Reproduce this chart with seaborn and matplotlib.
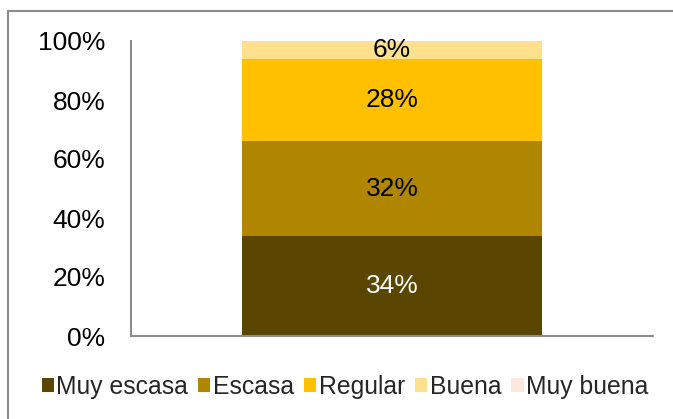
import numpy as np
import pandas as pd
import matplotlib
matplotlib.use("Agg")
import matplotlib.pyplot as plt
from matplotlib.patches import Patch, Rectangle
import seaborn as sns

# data
categories = ['Muy escasa', 'Escasa', 'Regular', 'Buena', 'Muy buena']
shares = [0.34, 0.32, 0.28, 0.06, 0.00]
colors = ['#5a4600', '#b08600', '#ffc000', '#ffe08c', '#fce8dc']
label_colors = ['white', 'black', 'black', 'black', 'black']

sns.set_theme(style='white')
plt.rcParams['font.family'] = ['Liberation Sans', 'DejaVu Sans']
fs = 19

df = pd.DataFrame({'cat': categories, 'share': shares})
df['top'] = df['share'].cumsum()
df['grp'] = ''

fig = plt.figure(figsize=(6.73, 4.19), dpi=100)
W, H = 673, 419
ax = fig.add_axes([131 / W, 1 - 336 / H, (653 - 131) / W, (336 - 41) / H])

# stacked bar: draw cumulative totals from the top segment down
for i in reversed(range(len(df))):
    sns.barplot(data=df.iloc[[i]], x='grp', y='top', color=colors[i],
                saturation=1, width=0.573, ax=ax, linewidth=0)

for i, row in df.iterrows():
    if row['share'] > 0:
        ax.text(0, row['top'] - row['share'] / 2, f"{row['share']:.0%}",
                ha='center', va='center', fontsize=fs, color=label_colors[i])

ax.set_ylim(0, 1)
ax.set_xlim(-0.5, 0.5)
ax.set_yticks(np.arange(0, 1.01, 0.2))
ax.set_yticklabels([f"{v:.0%}" for v in np.arange(0, 1.01, 0.2)], fontsize=fs)
ax.tick_params(axis='y', length=0, pad=18.5, colors='black')
ax.set_xticks([])
ax.set_xlabel('')
ax.set_ylabel('')
for side in ['top', 'right']:
    ax.spines[side].set_visible(False)
for side in ['left', 'bottom']:
    ax.spines[side].set_color('#8c8c8c')
    ax.spines[side].set_linewidth(1.5)

handles = [Patch(facecolor=c, edgecolor='none', label=l) for c, l in zip(colors, categories)]
fig.legend(handles=handles, loc='center', bbox_to_anchor=(345 / W, 1 - 387 / H),
           ncol=5, frameon=False, fontsize=17.8, handlelength=0.5, handleheight=0.5,
           handletextpad=0.1, columnspacing=0.4)

# outer chart border
fig.patches.append(Rectangle((8 / W, -0.1), 1.2, 1 - 11 / H + 0.1, transform=fig.transFigure,
                             fill=False, edgecolor='#8c8c8c', linewidth=1.5))

fig.savefig('out.png', dpi=100)
